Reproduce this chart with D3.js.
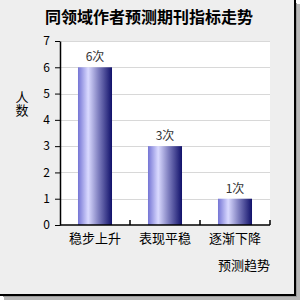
<!DOCTYPE html>
<html>
<head>
<meta charset="utf-8">
<script src="https://cdn.jsdelivr.net/npm/d3@7"></script>
<style>
body { margin: 0; padding: 0; background: #fff; }
svg text { font-family: "Noto Sans CJK SC", "DejaVu Sans", sans-serif; }
</style>
</head>
<body>
<svg id="chart" width="300" height="300"></svg>
<script>
// chart data
var title = '同领域作者预测期刊指标走势';
var categories = ['稳步上升', '表现平稳', '逐渐下降'];
var counts = [6, 3, 1];
var y_ticks = [0, 1, 2, 3, 4, 5, 6, 7];
var y_title = '人数';
var x_title = '预测趋势';

var svg = d3.select('#chart');
var margin = { left: 60, top: 41, right: 30, bottom: 75 };
var plot_w = 300 - margin.left - margin.right;
var plot_h = 300 - margin.top - margin.bottom;

// frame with shadow
svg.append('rect').attr('x', 4).attr('y', 4).attr('width', 296).attr('height', 296).attr('fill', '#b8b8b8');
svg.append('rect').attr('x', 3).attr('y', 3).attr('width', 294).attr('height', 294).attr('fill', '#999');
svg.append('rect').attr('x', 0).attr('y', 0).attr('width', 296).attr('height', 296).attr('fill', '#000');
svg.append('rect').attr('x', 0).attr('y', 0).attr('width', 294).attr('height', 294).attr('fill', '#eeeeee');

var defs = svg.append('defs');
var grad = defs.append('linearGradient').attr('id', 'bar_grad')
    .attr('x1', '0%').attr('x2', '100%').attr('y1', '0%').attr('y2', '0%');
grad.append('stop').attr('offset', '0%').attr('stop-color', '#7474d4');
grad.append('stop').attr('offset', '30%').attr('stop-color', '#dadaff');
grad.append('stop').attr('offset', '60%').attr('stop-color', '#8080c0');
grad.append('stop').attr('offset', '100%').attr('stop-color', '#10106a');

svg.append('text')
    .attr('x', 149).attr('y', 23)
    .attr('text-anchor', 'middle')
    .attr('font-size', 16).attr('font-weight', 'bold')
    .text(title);

var g = svg.append('g').attr('transform', 'translate(' + margin.left + ',' + margin.top + ')');

g.append('rect').attr('width', plot_w).attr('height', plot_h).attr('fill', '#fff');

var x = d3.scaleBand().domain(categories).range([0, plot_w]).paddingInner(0.514).paddingOuter(0.257);
var y = d3.scaleLinear().domain([0, 7]).range([plot_h, 0]);

// grid
g.selectAll('.grid').data(y_ticks.slice(1)).enter().append('line')
    .attr('x1', 0).attr('x2', plot_w)
    .attr('y1', function (d) { return Math.round(y(d)) + 0.5; })
    .attr('y2', function (d) { return Math.round(y(d)) + 0.5; })
    .attr('stroke', '#d8d8d8');

// bars
g.selectAll('.bar').data(counts).enter().append('rect')
    .attr('x', function (d, i) { return x(categories[i]); })
    .attr('y', function (d) { return y(d); })
    .attr('width', x.bandwidth())
    .attr('height', function (d) { return plot_h - y(d); })
    .attr('fill', 'url(#bar_grad)');

g.selectAll('.val').data(counts).enter().append('text')
    .attr('x', function (d, i) { return x(categories[i]) + x.bandwidth() / 2; })
    .attr('y', function (d) { return y(d) - 6; })
    .attr('text-anchor', 'middle')
    .attr('font-size', 12).attr('fill', '#333')
    .text(function (d) { return d + '次'; });

// y axis
var y_axis = g.append('g').call(d3.axisLeft(y).tickValues(y_ticks).tickFormat(d3.format('d')).tickSize(5).tickSizeOuter(0));
y_axis.selectAll('text').attr('font-size', 12).attr('fill', '#000').attr('dx', -2);
y_axis.select('.domain').attr('stroke-width', 1.5);

// x axis with inward ticks between bands
var x_axis = g.append('g').attr('transform', 'translate(0,' + plot_h + ')');
x_axis.append('line').attr('x1', 0).attr('x2', plot_w).attr('stroke', '#000').attr('stroke-width', 1.5);
x_axis.selectAll('.tick').data(categories).enter().append('line')
    .attr('x1', function (d) { return x(d) + x.bandwidth() / 2 + x.step() / 2; })
    .attr('x2', function (d) { return x(d) + x.bandwidth() / 2 + x.step() / 2; })
    .attr('y1', 0).attr('y2', -5).attr('stroke', '#000').attr('stroke-width', 1.5);
x_axis.selectAll('.lbl').data(categories).enter().append('text')
    .attr('x', function (d) { return x(d) + x.bandwidth() / 2; })
    .attr('y', 18)
    .attr('text-anchor', 'middle')
    .attr('font-size', 13)
    .text(function (d) { return d; });

// axis titles
svg.append('text')
    .attr('x', 22).attr('y', 104)
    .attr('text-anchor', 'middle')
    .style('writing-mode', 'vertical-rl')
    .attr('font-size', 13)
    .text(y_title);
svg.append('text').attr('x', 270).attr('y', 270).attr('text-anchor', 'end').attr('font-size', 13).text(x_title);
</script>
</body>
</html>
